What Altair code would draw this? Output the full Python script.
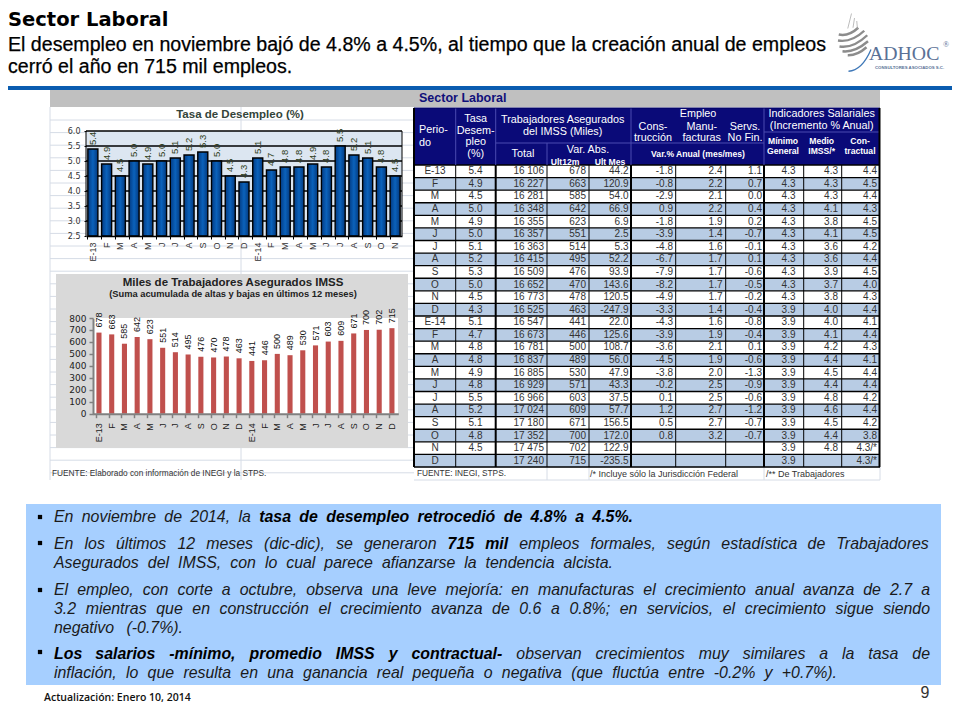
import json
import unicodedata
import altair as alt
import pandas as pd

SANS = "Liberation Sans"
SERIF = "Liberation Serif"

# ------------------------------------------------------------------ values
months_a = ["E-13","F","M","A","M","J","J","A","S","O","N","D","E-14","F","M","A","M","J","J","A","S","O","N"]
months_b = months_a + ["D"]
desempleo = [5.4,4.9,4.5,5.0,4.9,5.0,5.1,5.2,5.3,5.0,4.5,4.3,5.1,4.7,4.8,4.8,4.9,4.8,5.5,5.2,5.1,4.8,4.5]
asegurados = [678,663,585,642,623,551,514,495,476,470,478,463,441,446,500,489,530,571,603,609,671,700,702,715]

col_periodo = months_b
col_tasa = ["5.4","4.9","4.5","5.0","4.9","5.0","5.1","5.2","5.3","5.0","4.5","4.3","5.1","4.7","4.8","4.8","4.9","4.8","5.5","5.2","5.1","4.8","4.5",""]
col_total = ["16 106","16 227","16 281","16 348","16 355","16 357","16 363","16 415","16 509","16 652","16 773","16 525","16 547","16 673","16 781","16 837","16 885","16 929","16 966","17 024","17 180","17 352","17 475","17 240"]
col_12m = [str(v) for v in asegurados]
col_mes = ["44.2","120.9","54.0","66.9","6.9","2.5","5.3","52.2","93.9","143.6","120.5","-247.9","22.0","125.6","108.7","56.0","47.9","43.3","37.5","57.7","156.5","172.0","122.9","-235.5"]
col_cons = ["-1.8","-0.8","-2.9","0.9","-1.8","-3.9","-4.8","-6.7","-7.9","-8.2","-4.9","-3.3","-4.3","-3.9","-3.6","-4.5","-3.8","-0.2","0.1","1.2","0.5","0.8","",""]
col_manu = ["2.4","2.2","2.1","2.2","1.9","1.4","1.6","1.7","1.7","1.7","1.7","1.4","1.6","1.9","2.1","1.9","2.0","2.5","2.5","2.7","2.7","3.2","",""]
col_serv = ["1.1","0.7","0.0","0.4","0.2","-0.7","-0.1","0.1","-0.6","-0.5","-0.2","-0.4","-0.8","-0.4","0.1","-0.6","-1.3","-0.9","-0.6","-1.2","-0.7","-0.7","",""]
col_min = ["4.3"]*11 + ["3.9"]*13
col_medio = ["4.3","4.3","4.3","4.1","3.8","4.1","3.6","3.6","3.9","3.7","3.8","4.0","4.0","4.1","4.2","4.4","4.5","4.4","4.8","4.6","4.5","4.4","4.8",""]
col_contr = ["4.4","4.5","4.4","4.3","4.5","4.5","4.2","4.4","4.5","4.0","4.3","4.4","4.1","4.4","4.3","4.1","4.4","4.4","4.2","4.4","4.2","3.8","4.3/*","4.3/*"]

text_lines = [
    [("En noviembre de 2014, la", 0), ("tasa de desempleo retrocedió de 4.8% a 4.5%.", 1)],
    [("En los últimos 12 meses (dic-dic), se generaron", 0), ("715 mil", 1), ("empleos formales, según estadística de Trabajadores", 0)],
    [("Asegurados del IMSS, con lo cual parece afianzarse la tendencia alcista.", 0)],
    [("El empleo, con corte a octubre, observa una leve mejoría: en manufacturas el crecimiento anual avanza de 2.7 a", 0)],
    [("3.2 mientras que en construcción el crecimiento avanza de 0.6 a 0.8%; en servicios, el crecimiento sigue siendo", 0)],
    [("negativo (-0.7%).", 0)],
    [("Los salarios -mínimo, promedio IMSS y contractual-", 1), ("observan crecimientos muy similares a la tasa de", 0)],
    [("inflación, lo que resulta en una ganancia real pequeña o negativa (que fluctúa entre -0.2% y +0.7%).", 0)],
]
line_base = [522, 549, 568, 595, 614, 633, 659, 678]
line_end = [633, 930, 613, 930, 930, 183, 930, 837]
bullet_y = [517, 543, 590, 652]

# ------------------------------------------------------------------ page scales
W, H = 944, 704
X = alt.Scale(domain=[8, 8 + W], range=[0, W])
Y = alt.Scale(domain=[8, 8 + H], range=[0, H])


def xq(f="x"):
    return alt.X(f"{f}:Q", scale=X, axis=None)


def yq(f="y"):
    return alt.Y(f"{f}:Q", scale=Y, axis=None)


def rects(rows):
    df = pd.DataFrame(rows, columns=["x", "x2", "y", "y2", "c"])
    return alt.Chart(df).mark_rect(strokeWidth=0).encode(
        x=xq(), x2="x2:Q", y=yq(), y2="y2:Q", color=alt.Color("c:N", scale=None))


def rules(rows):
    df = pd.DataFrame(rows, columns=["x", "x2", "y", "y2", "c", "w"])
    return alt.Chart(df).mark_rule().encode(
        x=xq(), x2="x2:Q", y=yq(), y2="y2:Q",
        color=alt.Color("c:N", scale=None), size=alt.Size("w:Q", scale=None))


def txt(rows, size, color="#000000", font=SANS, weight="normal", style="normal",
        align="left", baseline="alphabetic", **kw):
    df = pd.DataFrame(rows, columns=["t", "x", "y"])
    return alt.Chart(df).mark_text(fontSize=size, color=color, font=font, fontWeight=weight,
                                   fontStyle=style, align=align, baseline=baseline, **kw).encode(
        x=xq(), y=yq(), text="t:N")


# ------------------------------------------------------------------ spreadsheet backdrop
SHEET = "#d6dce6"
sheet_rows = [(50, 414, 120 + 12.6 * k, 120 + 12.6 * k, SHEET, 1) for k in range(29)]
sheet_rows += [(241, 241, 107, 480, SHEET, 1), (414, 414, 107, 165, SHEET, 1), (50, 50, 107, 480, SHEET, 1)]
sheet_rows += [(414, 880, 467, 467, SHEET, 1), (414, 880, 480, 480, SHEET, 1), (547, 547, 467, 480, SHEET, 1),
               (589, 589, 467, 480, SHEET, 1), (764, 764, 467, 480, SHEET, 1), (880, 880, 467, 480, SHEET, 1)]
backdrop = rules(sheet_rows)

panels = rects([
    (50, 880, 90, 107, "#c0c0c0"),            # banner
    (8, 952, 86, 90, "#0a5cb0"),              # header line
    (56, 408, 274, 448, "#d9d9d9"),           # chart 2 panel
    (93, 398, 318, 414, "#ffffff"),           # chart 2 plot
    (86, 402, 131, 236, "#dce6f1"),           # chart 1 plot
    (414, 880, 108, 165, "#0a0a78"),          # table header
    (26, 941, 504, 685, "#a6cfff"),           # text box
])

# ------------------------------------------------------------------ chart 1
y_a = alt.Scale(domain=[2.5, 6.0], range=[228, 123], clamp=True)
x_a = alt.Scale(domain=list(range(23)), range=[78, 394], paddingInner=0.27, paddingOuter=0.135)
df_a = pd.DataFrame({"i": range(23), "v": desempleo, "s": [f"{v:.1f}" for v in desempleo]})
df_a_grid = pd.DataFrame({"v": [3.0, 3.5, 4.0, 4.5, 5.0, 5.5, 6.0], "x": 86, "x2": 402})

a_grid = alt.Chart(df_a_grid).mark_rule(color="#000000", size=1.6).encode(
    y=alt.Y("v:Q", scale=y_a, axis=None), x=xq(), x2="x2:Q")
a_side = rules([(86, 86, 131, 236, "#000000", 1), (402, 402, 131, 236, "#000000", 1)])
blue = {"gradient": "linear", "x1": 0, "x2": 1, "y1": 0, "y2": 0,
        "stops": [{"offset": 0, "color": "#023a82"}, {"offset": 0.5, "color": "#0b62bb"},
                  {"offset": 1, "color": "#02397f"}]}
a_bars = alt.Chart(df_a).mark_bar(fill=blue, stroke="#000000", strokeWidth=1.4).encode(
    x=alt.X("i:O", scale=x_a, axis=alt.Axis(
        orient="bottom", offset=-(H - 228), labelExpr=f"{json.dumps(months_a)}[datum.value]",
        labelAngle=270, labelFontSize=9, labelFont=SANS, labelColor="#333333", labelPadding=3,
        tickColor="#000000", tickSize=3, domainColor="#000000", domainWidth=1.5,
        title=None, zindex=1, grid=False, bandPosition=0)),
    y=alt.Y("v:Q", scale=y_a, axis=alt.Axis(
        orient="left", offset=-78, values=[2.5, 3, 3.5, 4, 4.5, 5, 5.5, 6], format=".1f",
        labelFontSize=8, labelFont="DejaVu Sans", labelColor="#333333", labelPadding=4,
        tickColor="#000000", tickSize=2, domain=False, grid=False, title=None, zindex=1)))
a_labels = alt.Chart(df_a).mark_text(angle=270, align="left", baseline="middle", dx=4,
                                     fontSize=9.5, font=SANS, color="#2f4020").encode(
    x=alt.X("i:O", scale=x_a, axis=None), y=alt.Y("v:Q", scale=y_a, axis=None), text="s:N")

# ------------------------------------------------------------------ chart 2
y_b = alt.Scale(domain=[0, 800], range=[405.7, 310])
x_b = alt.Scale(domain=list(range(24)), range=[84.6, 390.3], paddingInner=0.6, paddingOuter=0.3)
df_b = pd.DataFrame({"i": range(24), "v": asegurados})
b_bars = alt.Chart(df_b).mark_bar(color="#c0504d").encode(
    x=alt.X("i:O", scale=x_b, axis=alt.Axis(
        orient="bottom", offset=-(H - 405.7), labelExpr=f"{json.dumps(months_b)}[datum.value]",
        labelAngle=270, labelFontSize=9, labelFont=SANS, labelColor="#222222", labelPadding=5,
        tickColor="#808080", tickSize=4, tickWidth=1.5, domainColor="#808080", domainWidth=2,
        title=None, zindex=1, grid=False, bandPosition=0)),
    y=alt.Y("v:Q", scale=y_b, axis=alt.Axis(
        orient="left", offset=-85, values=list(range(0, 900, 100)),
        labelFontSize=9, labelFont="DejaVu Sans", labelColor="#222222", labelPadding=3,
        tickColor="#808080", tickSize=4, tickWidth=1.5, domainColor="#808080", domainWidth=2,
        grid=False, title=None, zindex=1)))
b_labels = alt.Chart(df_b).mark_text(angle=270, align="left", baseline="middle", dx=5,
                                     fontSize=9, font=SANS, color="#111111").encode(
    x=alt.X("i:O", scale=x_b, axis=None), y=alt.Y("v:Q", scale=y_b, axis=None), text="v:Q")

# ------------------------------------------------------------------ table
rows_y = alt.Scale(domain=list(range(24)), range=[157, 459], paddingInner=0, paddingOuter=0)
edges_y = alt.Scale(domain=[0, 24], range=[157, 459])
columns = [
    (col_periodo, 435, "center"), (col_tasa, 475.5, "center"), (col_total, 544, "right"),
    (col_12m, 586, "right"), (col_mes, 628.5, "right"), (col_cons, 673, "right"),
    (col_manu, 722.5, "right"), (col_serv, 762, "right"), (col_min, 795.5, "right"),
    (col_medio, 838, "right"), (col_contr, 877, "right"),
]
df_stripes = pd.DataFrame({"r": [r for r in range(24) if r % 2 == 1], "x": 414, "x2": 880})
t_stripes = alt.Chart(df_stripes).mark_rect(color="#b8cce4").encode(
    y=alt.Y("r:O", scale=rows_y, axis=None), x=xq(), x2="x2:Q")
df_edges = pd.DataFrame({"e": list(range(25)), "x": 414, "x2": 880})
t_edges = alt.Chart(df_edges).mark_rule(color="#000000", size=1.4).encode(
    y=alt.Y("e:Q", scale=edges_y, axis=None), x=xq(), x2="x2:Q")
v_rows = []
for xv, wv in [(414, 2), (455.7, 1), (495.7, 2), (547, 1), (589, 1), (631, 2), (675.7, 1),
               (725.7, 1), (764, 2), (803.7, 1), (841.7, 1), (879.5, 2)]:
    v_rows.append((xv, xv, 165, 467, "#000000", wv))
t_vert = rules(v_rows)
HL = "#4a4ab0"
t_head = rules([
    (455.7, 455.7, 108, 165, HL, 1), (495.7, 495.7, 108, 165, HL, 1), (631, 631, 108, 165, HL, 1),
    (764, 764, 108, 165, HL, 1), (547, 547, 143, 165, HL, 1), (495.7, 631, 143, 143, HL, 1),
    (631, 764, 143, 143, HL, 1), (764, 880, 132, 132, HL, 1), (414, 880, 108, 108, "#000060", 1),
    (414, 414, 108, 165, "#000000", 2), (879.5, 879.5, 108, 165, "#000000", 2),
])
cell_layers = []
for values, xc, al in columns:
    df = pd.DataFrame({"r": range(24), "t": values, "x": xc})
    df = df[df.t != ""]
    cell_layers.append(alt.Chart(df).mark_text(align=al, baseline="middle", fontSize=10, font=SANS,
                                               color="#333333").encode(
        x=xq(), y=alt.Y("r:O", scale=rows_y, axis=None), text="t:N"))

head_white = txt([
    ("Tasa", 475.7, 119), ("Desem-", 475.7, 130.5), ("pleo", 475.7, 142), ("(%)", 475.7, 154),
    ("Trabajadores Asegurados", 562.7, 120), ("del IMSS (Miles)", 562.7, 131.5),
    ("Total", 523, 154), ("Var. Abs.", 588, 150),
    ("Empleo", 698, 114), ("Cons-", 653, 127), ("trucción", 653, 138),
    ("Manu-", 701.7, 127), ("facturas", 701.7, 138), ("Servs.", 745, 127), ("No Fin.", 745, 138),
    ("Indicadores Salariales", 821.7, 114), ("(Incremento % Anual)", 821.7, 126),
], 10.8, "#ffffff", align="center", baseline="middle")
head_left = txt([("Perio-", 419, 130), ("do", 419, 143)], 10.8, "#ffffff", baseline="middle")
head_bold = txt([
    ("Ult12m", 565, 162), ("Ult Mes", 610, 162),
    ("Var.% Anual (mes/mes)", 698, 154),
    ("Mínimo", 783, 141), ("General", 783, 151), ("Medio", 821.7, 141), ("IMSS/*", 821.7, 151),
    ("Con-", 860, 141), ("tractual", 860, 151),
], 8.6, "#ffffff", weight="bold", align="center", baseline="middle")

notes_a = txt([
    ("FUENTE: Elaborado con información de INEGI y la STPS.", 52, 474),
    ("FUENTE: INEGI, STPS.", 417, 473.5),
], 8.3, "#333333", baseline="middle")
notes_b = txt([
    ("/* Incluye sólo la Jurisdicción Federal", 590, 473.5),
    ("/** De Trabajadores", 766, 473.5),
], 9, "#333333", baseline="middle")

# ------------------------------------------------------------------ justified box text
REG = dict(zip("abcdefghijklmnopqrstuvwxyz",
               [556,556,500,556,556,278,556,556,222,222,500,222,833,556,556,556,556,333,500,278,556,500,722,500,500,500]))
BLD = dict(zip("abcdefghijklmnopqrstuvwxyz",
               [556,611,556,611,556,333,611,611,278,278,556,278,889,611,611,611,611,389,556,333,611,556,778,556,556,500]))
CAPS = dict(zip("ABCDEFGHIJKLMNOPQRSTUVWXYZ",
                [667,667,722,722,667,611,778,722,278,500,667,556,833,722,778,667,778,722,667,611,722,667,944,667,667,611]))
PUNCT = {".": 278, ",": 278, "-": 333, "%": 889, "(": 333, ")": 333, ":": 278, ";": 278, "+": 584}


def width(word, bold, size):
    total = 0
    for ch in unicodedata.normalize("NFD", word):
        if unicodedata.combining(ch):
            continue
        if ch.isdigit():
            total += 556
        elif ch in CAPS:
            total += CAPS[ch]
        elif ch in PUNCT:
            total += PUNCT[ch]
        else:
            total += (BLD if bold else REG).get(ch, 556)
    return total * size / 1000


BOX_SIZE = 15.9
words_reg, words_bold = [], []
for runs, base, end in zip(text_lines, line_base, line_end):
    words = [(w, b) for run, b in runs for w in run.split()]
    natural = sum(width(w, b, BOX_SIZE) for w, b in words)
    gap = (end - 54 - natural) / max(len(words) - 1, 1)
    cur = 54
    for w, b in words:
        (words_bold if b else words_reg).append((w, cur, base))
        cur += width(w, b, BOX_SIZE) + gap

box_reg = txt(words_reg, BOX_SIZE, "#1a1a1a", style="italic")
box_bold = txt(words_bold, BOX_SIZE, "#000000", weight="bold", style="italic")
bullets = alt.Chart(pd.DataFrame({"x": 40, "y": bullet_y})).mark_point(
    shape="square", filled=True, color="#000000", size=18, opacity=1).encode(x=xq(), y=yq())

# ------------------------------------------------------------------ header, footer, logo
h1 = txt([("Sector Laboral", 8, 26)], 19.5, font="DejaVu Sans", weight="bold")
h2 = txt([("El desempleo en noviembre bajó de 4.8% a 4.5%, al tiempo que la creación anual de empleos", 8, 51),
          ("cerró el año en 715 mil empleos.", 8, 73)], 19.6, stroke="#000000", strokeWidth=0.25)
sheet_title = txt([("Sector Laboral", 419, 102)], 12.5, "#10107a", weight="bold")
c1_title = txt([("Tasa de Desempleo (%)", 240, 115)], 11.5, "#33443a", weight="bold",
               align="center", baseline="middle")
c2_title = txt([("Miles de Trabajadores Asegurados IMSS", 233, 283)], 11.5, "#222222", weight="bold",
               align="center", baseline="middle")
c2_sub = txt([("(Suma acumulada de altas y bajas en últimos 12 meses)", 233, 294)], 9.3, "#222222",
             weight="bold", align="center", baseline="middle")
footer = txt([("Actualización:  Enero 10, 2014", 44, 701)], 10.5, "#111111", font="Open Sans", weight=600)
page = txt([("9", 925, 698)], 16, "#333333", align="center")
logo_word = txt([("ADHOC", 869, 60)], 19.8, "#5a7196", font=SERIF)
logo_reg = txt([("®", 943, 47)], 8, "#5a7196", font=SERIF)
logo_sub = txt([("CONSULTORES ASOCIADOS S.C.", 875, 69)], 4.3, "#5a7196", weight="bold")

BALL = ("M-0.95,-0.5 Q-0.3,-0.35 0.35,-0.95 M-1,-0.1 Q-0.1,0.05 0.75,-0.75 "
        "M-0.9,0.3 Q0,0.45 0.95,-0.45 M-0.7,0.62 Q0.1,0.72 1,-0.05 M-0.35,0.88 Q0.3,0.9 0.9,0.35")
SPIKES = "M-0.35,-0.9 L-0.1,-1.9 M0.0,-0.95 L0.1,-1.6 M0.3,-0.85 L0.25,-1.4"
SWOOSH = "M-0.3,1.95 Q0.6,1.9 1.2,0.5"
logo_at = pd.DataFrame({"x": [853], "y": [42]})
ball = alt.Chart(logo_at).mark_point(shape=BALL, size=900, stroke="#8c8c8c", strokeWidth=2.4,
                                     filled=False, opacity=1).encode(x=xq(), y=yq())
spikes = alt.Chart(logo_at).mark_point(shape=SPIKES, size=900, stroke="#a0a0a0", strokeWidth=0.7,
                                       filled=False, opacity=1).encode(x=xq(), y=yq())
swoosh = alt.Chart(logo_at).mark_point(shape=SWOOSH, size=900, stroke="#3f78b8", strokeWidth=1.3,
                                       filled=False, opacity=1).encode(x=xq(), y=yq())

# ------------------------------------------------------------------ assembly
layers = [backdrop, panels, a_grid, a_side, a_bars, a_labels, b_bars, b_labels,
          t_stripes, t_edges, t_vert, t_head] + cell_layers + [
    head_white, head_left, head_bold, notes_a, notes_b, box_reg, box_bold, bullets, h1, h2, sheet_title,
    c1_title, c2_title, c2_sub, footer, page, logo_word, logo_reg, logo_sub, ball, spikes, swoosh]

chart = alt.layer(*layers).resolve_scale(x="independent", y="independent").properties(
    width=W, height=H, padding=0, autosize=alt.AutoSizeParams(type="none"), background="#ffffff"
).configure_view(stroke=None)

chart.save("out.html", embed_options={"renderer": "svg", "actions": False})
